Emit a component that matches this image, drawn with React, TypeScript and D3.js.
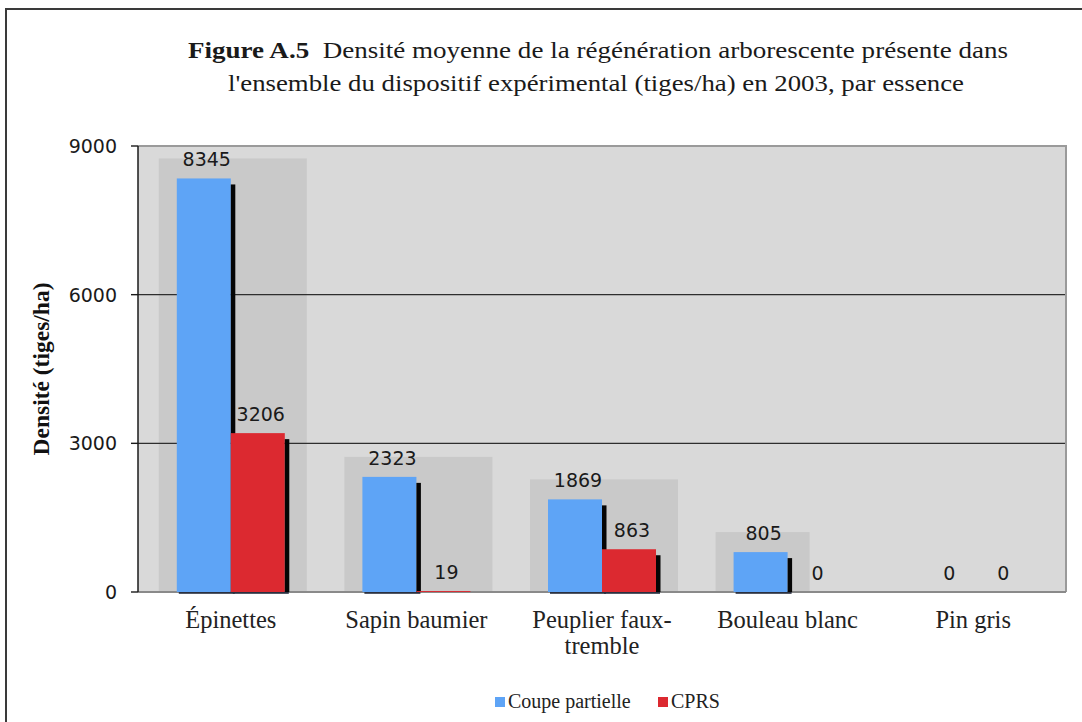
import React from "react";
import * as d3 from "d3";

const categories = ["Épinettes", "Sapin baumier", "Peuplier faux-tremble", "Bouleau blanc", "Pin gris"];
const categoryLines = [["Épinettes"], ["Sapin baumier"], ["Peuplier faux-", "tremble"], ["Bouleau blanc"], ["Pin gris"]];
const coupePartielle = [8345, 2323, 1869, 805, 0];
const cprs = [3206, 19, 863, 0, 0];
const seriesNames = ["Coupe partielle", "CPRS"];
const seriesColors = ["#5ea4f6", "#dc2930"];
const yTicks = [0, 3000, 6000, 9000];
const titleBold = "Figure A.5";
const titleRest = "Densité moyenne de la régénération arborescente présente dans";
const titleLine2 = "l'ensemble du dispositif expérimental (tiges/ha) en 2003, par essence";
const yLabel = "Densité (tiges/ha)";

const W = 1082;
const H = 722;
const M = { left: 138, right: 1066, top: 146, bottom: 592 };

export default function App() {
  const x0 = d3.scaleBand<string>().domain(categories).range([M.left, M.right]).paddingInner(0).paddingOuter(0);
  const barW = 54;
  const y = d3.scaleLinear().domain([0, 9000]).range([M.bottom, M.top]);
  const series = [coupePartielle, cprs];
  const serif = "'Liberation Serif', 'Times New Roman', serif";
  const sans = "'DejaVu Sans', Verdana, sans-serif";

  return (
    <svg width={W} height={H} style={{ position: "absolute", left: 0, top: 0, background: "#fff" }}>
      {/* outer frame */}
      <path d={`M6,${H} V9 H${W}`} fill="none" stroke="#3a3a3a" strokeWidth={2} />
      {/* title */}
      <text x={598} y={58} textAnchor="middle" fontFamily={serif} fontSize={24} fill="#1a1a1a" textLength={820} lengthAdjust="spacingAndGlyphs">
        <tspan fontWeight="bold">{titleBold}</tspan>
        <tspan>{"\u00a0 " + titleRest}</tspan>
      </text>
      <text x={596} y={91} textAnchor="middle" fontFamily={serif} fontSize={24} fill="#1a1a1a" textLength={736} lengthAdjust="spacingAndGlyphs">
        {titleLine2}
      </text>
      {/* plot background */}
      <rect x={M.left} y={M.top} width={M.right - M.left} height={M.bottom - M.top} fill="#d9d9d9" />
      {/* group shadows */}
      {categories.map((c, i) => {
        const vals = series.map((s) => s[i]);
        const max = d3.max(vals) as number;
        if (max <= 0) return null;
        const center = (x0(c) as number) + x0.bandwidth() / 2;
        const lastIdx = vals[1] > 0 ? 1 : 0;
        const left = center - barW - 18;
        const right = center - barW + (lastIdx + 1) * barW + 22;
        const top = y(max) - 20;
        return <rect key={"sh" + i} x={left} y={top} width={right - left} height={M.bottom - top} fill="#c9c9c9" />;
      })}
      {/* gridlines */}
      {yTicks.filter((t) => t > 0 && t < 9000).map((t) => (
        <line key={"g" + t} x1={M.left} x2={M.right} y1={y(t)} y2={y(t)} stroke="#2e2e2e" strokeWidth={1.4} />
      ))}
      {/* top and right border */}
      <path d={`M${M.left},${M.top} H${M.right} V${M.bottom}`} fill="none" stroke="#9a9a9a" strokeWidth={2} />
      {/* x axis line */}
      <line x1={M.left} x2={M.right} y1={M.bottom} y2={M.bottom} stroke="#8a8a8a" strokeWidth={2} />
      {/* bars */}
      {categories.map((c, i) => {
        const center = (x0(c) as number) + x0.bandwidth() / 2;
        return (
          <g key={"b" + i}>
            {series.map((s, k) => {
              const v = s[i];
              const bx = center - barW + k * barW;
              const by = y(v);
              const h = M.bottom - by;
              if (v <= 0) return null;
              return (
                <g key={k}>
                  <rect x={bx} y={by} width={barW} height={h} fill={seriesColors[k]} />
                  {h > 8 && <rect x={bx + barW} y={by + 6} width={4.5} height={M.bottom - by - 6} fill="#050505" />}
                  {h > 8 && <rect x={bx + 2} y={M.bottom} width={barW + 2} height={1.8} fill="#2a3040" />}
                </g>
              );
            })}
          </g>
        );
      })}
      {/* value labels */}
      {categories.map((c, i) => {
        const center = (x0(c) as number) + x0.bandwidth() / 2;
        return series.map((s, k) => {
          const v = s[i];
          const bx = center - barW + k * barW + barW / 2 + 3;
          return (
            <text key={"l" + i + "-" + k} x={bx} y={y(v) - 12} textAnchor="middle" fontFamily={sans} fontSize={19} fill="#1a1a1a">
              {v}
            </text>
          );
        });
      })}
      {/* y axis */}
      <line x1={M.left} x2={M.left} y1={M.top} y2={M.bottom} stroke="#1a1a1a" strokeWidth={1.5} />
      {yTicks.map((t) => (
        <g key={"t" + t}>
          <line x1={M.left - 7} x2={M.left} y1={y(t)} y2={y(t)} stroke="#1a1a1a" strokeWidth={1.4} />
          <text x={117} y={y(t) + 7} textAnchor="end" fontFamily={sans} fontSize={19} fill="#1a1a1a">
            {t}
          </text>
        </g>
      ))}
      <text
        transform={`translate(49,369) rotate(-90)`}
        textAnchor="middle"
        fontFamily={serif}
        fontWeight="bold"
        fontSize={23.5}
        fill="#111"
      >
        {yLabel}
      </text>
      {/* category labels */}
      {categories.map((c, i) => {
        const center = (x0(c) as number) + x0.bandwidth() / 2;
        return (
          <text key={"c" + i} x={center} y={628} textAnchor="middle" fontFamily={serif} fontSize={24.5} fill="#222">
            {categoryLines[i].map((ln, j) => (
              <tspan key={j} x={center} dy={j === 0 ? 0 : 26}>
                {ln}
              </tspan>
            ))}
          </text>
        );
      })}
      {/* legend */}
      {seriesNames.map((n, k) => {
        const lx = k === 0 ? 495 : 658;
        return (
          <g key={"lg" + k}>
            <rect x={lx} y={697} width={10} height={10} fill={seriesColors[k]} />
            <text x={lx + 13} y={708} fontFamily={serif} fontSize={20} fill="#222">
              {n}
            </text>
          </g>
        );
      })}
    </svg>
  );
}
